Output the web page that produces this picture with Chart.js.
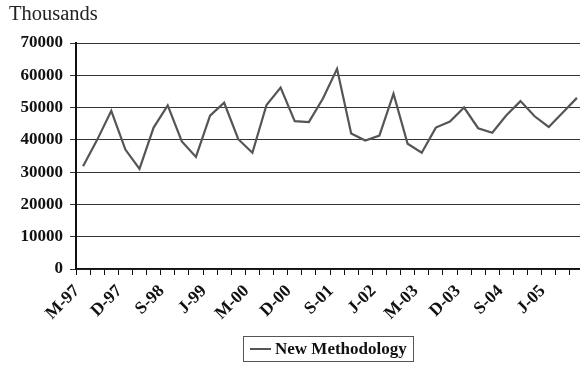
<!DOCTYPE html>
<html>
<head>
<meta charset="utf-8">
<script src="https://cdn.jsdelivr.net/npm/chart.js@4.4.1/dist/chart.umd.min.js"></script>
<style>
  html, body { margin: 0; padding: 0; background: #fff; overflow: hidden; width: 580px; height: 365px; }
  #wrap { position: absolute; left: 0; top: 0; width: 600px; height: 365px; }
  #unit { position: absolute; left: 9px; top: 2px; font: 20.5px "Liberation Serif", "Times New Roman", serif; color: #222; }
  #legend { position: absolute; left: 243px; top: 336px; width: 171px; height: 26px; border: 1.5px solid #555;
    font: bold 17px "Liberation Serif", "Times New Roman", serif; color: #111; box-sizing: border-box; }
  #legend .swatch { position: absolute; left: 6px; top: 11px; width: 21px; height: 2px; background: #555; }
  #legend .txt { position: absolute; left: 31px; top: 2px; white-space: nowrap; }
</style>
</head>
<body>
<div id="wrap"><canvas id="chart" width="600" height="365"></canvas></div>
<div id="unit">Thousands</div>
<div id="legend"><span class="swatch"></span><span class="txt">New Methodology</span></div>
<script>
// quarterly categories, March 1997 onwards
const quarters = ['M', 'J', 'S', 'D'];
const years = ['97', '98', '99', '00', '01', '02', '03', '04', '05'];
const categories = [];
years.forEach(y => quarters.forEach(q => categories.push(q + '-' + y)));

const newMethodology = [
  31800, 40000, 49000, 37000, 31000, 43800, 50700, 39500, 34700,
  47500, 51500, 40200, 36000, 50800, 56200, 45800, 45500, 52800,
  62000, 42000, 39800, 41300, 54300, 38800, 36000, 43800, 45700,
  50000, 43600, 42200, 47600, 52000, 47300, 44000, 48500, 53000
];

const yTicks = [0, 10000, 20000, 30000, 40000, 50000, 60000, 70000];

const serif = '"Liberation Serif", "Times New Roman", serif';

new Chart(document.getElementById('chart'), {
  type: 'line',
  data: {
    labels: categories,
    datasets: [{
      label: 'New Methodology',
      data: newMethodology,
      borderColor: '#555',
      borderWidth: 2.2,
      pointRadius: 0,
      tension: 0,
      fill: false
    }]
  },
  options: {
    responsive: false,
    animation: false,
    devicePixelRatio: 1,
    layout: { padding: { top: 43, right: 16, left: 0, bottom: 0 } },
    plugins: { legend: { display: false }, tooltip: { enabled: false } },
    scales: {
      x: {
        offset: true,
        afterFit: (s) => { s.height = 96; },
        grid: { drawOnChartArea: false, offset: true, tickLength: 6, color: '#111', lineWidth: 1 },
        border: { color: '#111', width: 1.5 },
        ticks: {
          autoSkip: false,
          maxRotation: 45,
          minRotation: 45,
          padding: 6,
          labelOffset: -6,
          color: '#111',
          font: { family: serif, size: 17.5, weight: 'bold' },
          callback: (v, i) => (i % 3 === 0 ? categories[i] : '')
        }
      },
      y: {
        min: yTicks[0],
        max: yTicks[yTicks.length - 1],
        afterFit: (s) => { s.width = 76; },
        afterBuildTicks: (s) => { s.ticks = yTicks.map(v => ({ value: v })); },
        grid: { color: '#333', lineWidth: 1, tickLength: 6 },
        border: { color: '#111', width: 2 },
        ticks: {
          padding: 7,
          color: '#111',
          font: { family: serif, size: 17, weight: 'bold' },
          callback: (v) => String(v)
        }
      }
    }
  }
});
</script>
</body>
</html>
